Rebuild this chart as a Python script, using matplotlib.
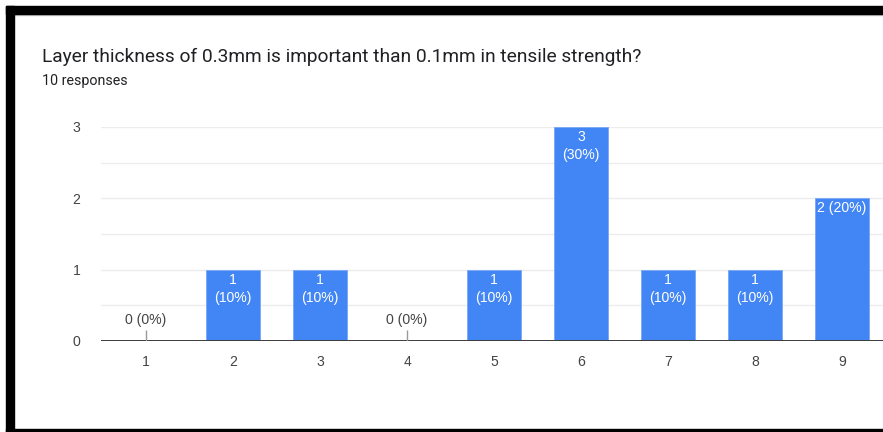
import matplotlib
matplotlib.use("Agg")
import matplotlib.pyplot as plt
from matplotlib.patches import Rectangle

plt.rcParams['font.family'] = ['Roboto', 'DejaVu Sans']
CHART_FONT = ['Liberation Sans', 'DejaVu Sans']

title = "Layer thickness of 0.3mm is important than 0.1mm in tensile strength?"
subtitle = "10 responses"
categories = [1, 2, 3, 4, 5, 6, 7, 8, 9]
counts = [0, 1, 1, 0, 1, 3, 1, 1, 2]
total = 10
single_line = {9}
y_ticks = [0, 1, 2, 3]

W, H, DPI = 883, 432, 100
fig = plt.figure(figsize=(W / DPI, H / DPI), dpi=DPI)
fig.patch.set_facecolor('white')

def fx(px):
    return px / W

def fy(py):
    return 1 - py / H

# plot area
ax = fig.add_axes([fx(101), fy(341), fx(883) - fx(101), fy(127) - fy(341)])
ax.set_xlim(1 - 45 / 87, 9 + 41 / 87)
ax.set_ylim(0, 3)
for s in ax.spines.values():
    s.set_visible(False)

# light gridlines every half unit
for g in [0.5, 1, 1.5, 2, 2.5, 3]:
    ax.axhline(g, color='#ececec', lw=1.0, zorder=0)

bar_color = '#4285f4'
bars = ax.bar(categories, counts, width=0.615, color=bar_color,
              edgecolor='#7eaaf7', linewidth=0.7, zorder=2)

ax.axhline(0, color='#3c3c3c', lw=1.4, zorder=3)

lab = dict(ha='center', va='center', fontsize=10.1, family=CHART_FONT, zorder=4)
for c, v in zip(categories, counts):
    pct = f"({round(100 * v / total)}%)"
    if v == 0:
        ax.plot([c, c], [0, 0.15], color='#9a9a9a', lw=1.0, zorder=3,
                solid_capstyle='butt')
        ax.text(c, 0.29, f"{v} {pct}", color='#444444', **lab)
    elif c in single_line:
        ax.annotate(f"{v} {pct}", (c, v), xytext=(0, -10), textcoords='offset pixels',
                    color='white', **lab)
    else:
        ax.annotate(f"{v}", (c, v), xytext=(0, -10), textcoords='offset pixels',
                    color='white', **lab)
        ax.annotate(pct, (c, v), xytext=(0, -28), textcoords='offset pixels',
                    color='white', **lab)

ax.set_xticks(categories)
ax.set_xticklabels([str(c) for c in categories], family=CHART_FONT)
ax.set_yticks(y_ticks)
ax.set_yticklabels([str(t) for t in y_ticks], family=CHART_FONT)
ax.tick_params(axis='both', length=0, labelsize=10.1, colors='#444444')
ax.tick_params(axis='x', pad=10)
ax.tick_params(axis='y', pad=15)
ax.set_facecolor('white')

fig.text(fx(42), fy(57), title, ha='left', va='center', fontsize=13.8, color='#202124')
fig.text(fx(42), fy(81), subtitle, ha='left', va='center', fontsize=10.3, color='#202124')

# black frame around the card
frame = dict(transform=fig.transFigure, color='black', zorder=10)
fig.patches.append(Rectangle((fx(6), fy(14)), fx(883) - fx(6), fy(6) - fy(14), **frame))
fig.patches.append(Rectangle((fx(6), fy(432)), fx(14) - fx(6), fy(6) - fy(432), **frame))
fig.patches.append(Rectangle((fx(6), fy(432)), fx(883) - fx(6), fy(429) - fy(432), **frame))
fig.patches.append(Rectangle((fx(14), fy(15)), fx(883) - fx(14), fy(14) - fy(15),
                             transform=fig.transFigure, color='#c8c8c8', zorder=9))

fig.savefig('out.png', dpi=DPI)
